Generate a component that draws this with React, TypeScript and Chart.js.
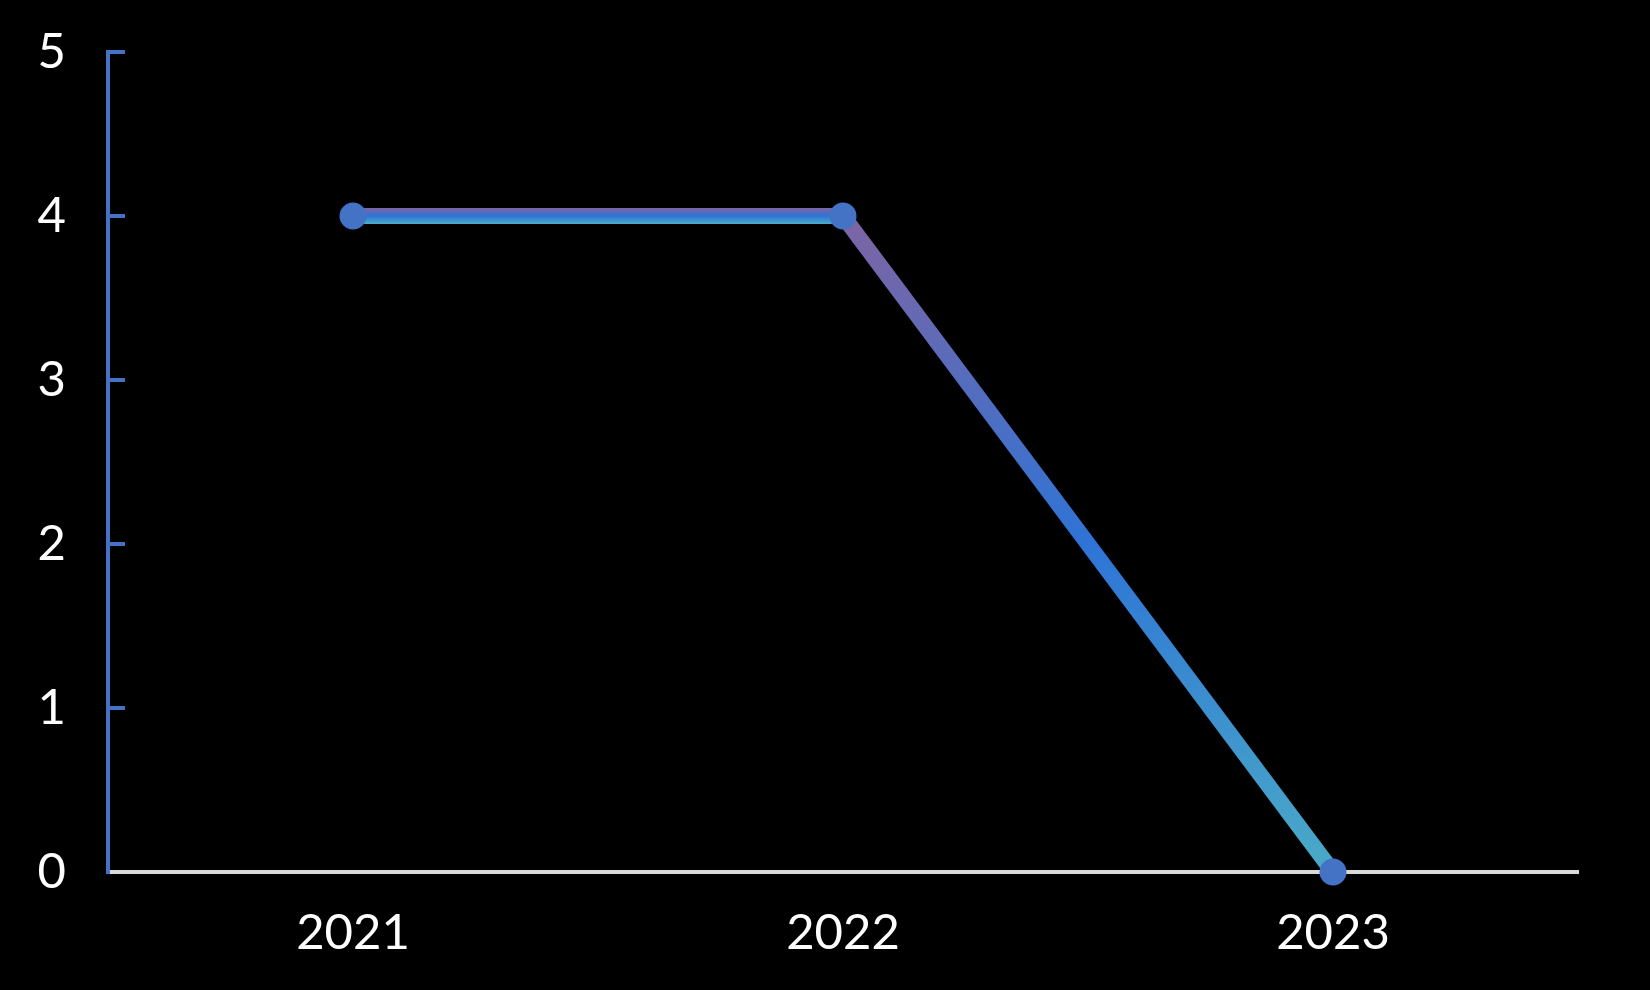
import React, { useEffect, useRef } from "react";
import { Chart, registerables } from "chart.js";

Chart.register(...registerables);

const categories = ["2021", "2022", "2023"];
const seriesValues = [4, 4, 0];
const yTicks = [0, 1, 2, 3, 4, 5];

const gradientStops = ["#8064a2", "#2e74d6", "#4bacc6"];

export default function App() {
  const canvasRef = useRef<HTMLCanvasElement | null>(null);

  useEffect(() => {
    const canvas = canvasRef.current;
    if (!canvas) return;
    const lineWidth = 16;
    const chart = new Chart(canvas, {
      type: "line",
      data: {
        labels: categories,
        datasets: [
          {
            data: seriesValues,
            borderWidth: lineWidth,
            borderColor: "#2e74d6",
            tension: 0,
            clip: false,
            pointRadius: 13.5,
            pointHoverRadius: 13.5,
            pointBorderWidth: 0,
            pointBackgroundColor: "#4472c4",
            pointBorderColor: "#4472c4",
            segment: {
              borderColor: (ctx: any) => {
                const c = ctx.chart ? ctx.chart.ctx : canvas.getContext("2d");
                const y0 = Math.min(ctx.p0.y, ctx.p1.y) - lineWidth / 2;
                const y1 = Math.max(ctx.p0.y, ctx.p1.y) + lineWidth / 2;
                const g = c.createLinearGradient(0, y0, 0, y1);
                g.addColorStop(0, gradientStops[0]);
                g.addColorStop(0.5, gradientStops[1]);
                g.addColorStop(1, gradientStops[2]);
                return g;
              },
            },
          },
        ],
      },
      options: {
        responsive: false,
        animation: false,
        layout: { padding: { top: 52, right: 72, bottom: 0, left: 0 } },
        plugins: {
          legend: { display: false },
          tooltip: { enabled: false },
        },
        scales: {
          x: {
            type: "category",
            offset: true,
            grid: { display: true, drawOnChartArea: false, drawTicks: false },
            border: { display: true, color: "#d9d9d9", width: 4 },
            ticks: {
              color: "#ffffff",
              padding: 32,
              font: { family: "Lato", size: 49 },
              maxRotation: 0,
            },
            afterFit: (scale: any) => {
              scale.height = 118;
            },
          },
          y: {
            min: 0,
            max: 5,
            afterBuildTicks: (scale: any) => {
              scale.ticks = yTicks.map((v) => ({ value: v }));
            },
            grid: {
              drawOnChartArea: false,
              drawTicks: true,
              tickLength: -17,
              color: "#4472c4",
              lineWidth: 4,
            },
            border: { display: true, color: "#4472c4", width: 4 },
            ticks: {
              color: "#ffffff",
              padding: 59,
              font: { family: "Lato", size: 49 },
            },
            afterFit: (scale: any) => {
              scale.width = 108;
              scale.paddingTop = 0;
              scale.paddingBottom = 0;
            },
          },
        },
      },
    });
    return () => chart.destroy();
  }, []);

  return (
    <div
      style={{
        position: "fixed",
        left: 0,
        top: 0,
        width: 1650,
        height: 990,
        background: "#000000",
      }}
    >
      <canvas ref={canvasRef} width={1650} height={990} style={{ width: 1650, height: 990, display: "block" }} />
    </div>
  );
}
